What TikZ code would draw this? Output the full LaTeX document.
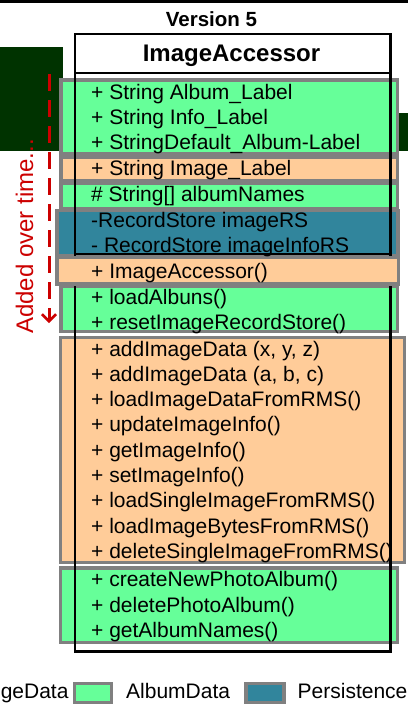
\documentclass[tikz,border=0pt]{standalone}
\usepackage{fontspec}
\setmainfont{Liberation Sans}
\usetikzlibrary{arrows.meta}
\definecolor{boxgreen}{RGB}{102,255,153}
\definecolor{boxorange}{RGB}{255,204,153}
\definecolor{boxblue}{RGB}{49,133,156}
\definecolor{boxgray}{RGB}{128,128,128}
\definecolor{darkbg}{RGB}{0,51,0}
\definecolor{timered}{RGB}{204,0,0}
\tikzset{
  catbox/.style={draw=boxgray, line width=3.5pt},
  albumbox/.style={catbox, fill=boxgreen},
  imagebox/.style={catbox, fill=boxorange},
  persistbox/.style={catbox, fill=boxblue},
  rowtext/.style={anchor=base west, inner sep=0pt, font=\fontsize{21}{25}\selectfont},
  legtext/.style={inner sep=0pt, font=\fontsize{21}{25}\selectfont},
  classline/.style={draw=black, line width=2.5pt},
}
\begin{document}
\begin{tikzpicture}[x=1pt,y=-1pt]
\useasboundingbox (0,0) rectangle (408,705);
% top rule
\draw[line width=2.5pt] (0,1.3) -- (408,1.3);
% dark background blocks
\fill[darkbg] (0,47) rectangle (63,150.5);
\fill[darkbg] (399,113) rectangle (408,150.5);
% category boxes
\draw[albumbox] (61,80) rectangle (397.5,154);
\draw[imagebox] (61,157.5) rectangle (397.5,181);
\draw[albumbox] (61,183.5) rectangle (397.5,208.5);
\draw[persistbox] (57,210.5) rectangle (398,255.5);
\draw[albumbox] (61,286) rectangle (397.5,331.5);
\draw[imagebox] (60.5,337.5) rectangle (404.5,562.5);
\draw[albumbox] (60.5,568) rectangle (397.5,642.5);
% time arrow
\coordinate (tstart) at (49,74);
\coordinate (tend) at (49,323);
\draw[timered, line width=3pt, dash pattern=on 17pt off 9pt,
  -{Straight Barb[length=7pt,width=14pt,line width=2.5pt]}] (tstart) -- (tend);
\node[rotate=90, anchor=base west, inner sep=0pt, text=timered,
  font=\fontsize{24}{28}\selectfont] (tlabel) at (33,334) {Added over time...};
% class box
\draw[classline] (75,34) rectangle (390.5,651.5);
\draw[draw=black, line width=1.5pt] (75,73) -- (390.5,73);
\draw[classline] (75,254) -- (390.5,254);
% constructor box on top
\draw[imagebox] (57,257.5) rectangle (398.5,284);
% titles
\node[anchor=base, inner sep=0pt, font=\fontsize{20.5}{24}\selectfont\bfseries] (ver) at (211.5,26.7) {Version 5};
\node[anchor=base, inner sep=0pt, font=\fontsize{24}{28}\selectfont\bfseries] (cname) at (231.5,61.7) {ImageAccessor};
% rows
\node[rowtext] (r1) at (91,99) {+ String Album\_Label};
\node[rowtext] (r2) at (91,124) {+ String Info\_Label};
\node[rowtext] (r3) at (91,149) {+ StringDefault\_Album-Label};
\node[rowtext] (r4) at (91,175.5) {+ String Image\_Label};
\node[rowtext] (r5) at (91,201.5) {\# String[] albumNames};
\node[rowtext] (r6) at (91,227) {-RecordStore imageRS};
\node[rowtext] (r7) at (91,252) {- RecordStore imageInfoRS};
\node[rowtext] (r8) at (91,278) {+ ImageAccessor()};
\node[rowtext] (r9) at (91,304) {+ loadAlbuns()};
\node[rowtext] (r10) at (91,329) {+ resetImageRecordStore()};
\node[rowtext] (r11) at (91,356) {+ addImageData (x, y, z)};
\node[rowtext] (r12) at (91,381.3) {+ addImageData (a, b, c)};
\node[rowtext] (r13) at (91,406.6) {+ loadImageDataFromRMS()};
\node[rowtext] (r14) at (91,431.9) {+ updateImageInfo()};
\node[rowtext] (r15) at (91,457.2) {+ getImageInfo()};
\node[rowtext] (r16) at (91,482.5) {+ setImageInfo()};
\node[rowtext] (r17) at (91,507.8) {+ loadSingleImageFromRMS()};
\node[rowtext] (r18) at (91,533.1) {+ loadImageBytesFromRMS()};
\node[rowtext] (r19) at (91,558.4) {+ deleteSingleImageFromRMS()};
\node[rowtext] (r20) at (91,586.5) {+ createNewPhotoAlbum()};
\node[rowtext] (r21) at (91,612) {+ deletePhotoAlbum()};
\node[rowtext] (r22) at (91,637) {+ getAlbumNames()};
% legend
\node[legtext, anchor=base west] (lg1) at (0.6,698) {geData};
\draw[albumbox] (74.5,683.5) rectangle (111.5,702.5);
\node[legtext, anchor=base west] (lg2) at (126,698) {AlbumData};
\draw[persistbox] (246,683.5) rectangle (284,702.5);
\node[legtext, anchor=base west] (lg3) at (297.5,698) {Persistence};
\end{tikzpicture}
\end{document}
